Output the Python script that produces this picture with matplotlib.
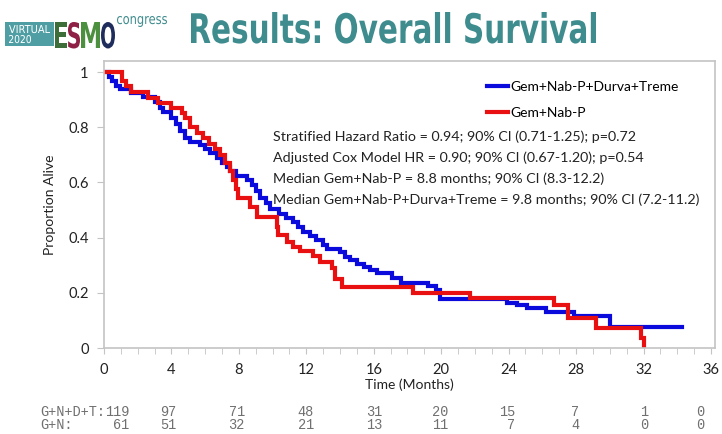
import matplotlib
matplotlib.use("Agg")
import matplotlib.pyplot as plt
from matplotlib.patches import Rectangle, PathPatch
from matplotlib.textpath import TextPath
from matplotlib.font_manager import FontProperties
from matplotlib.transforms import Affine2D, blended_transform_factory

# Kaplan-Meier steps, Gem+Nab-P+Durva+Treme (n=119)
t_gndt = [0, 0.3, 0.5, 0.7, 0.95, 1.6, 2.3, 3.0, 3.3, 3.5, 4.0, 4.3, 4.5, 4.8, 5.1,
          5.7, 6.0, 6.3, 6.7, 7.0, 7.3, 7.5, 7.8, 8.5, 8.8, 9.0, 9.25, 9.6, 9.85,
          10.4, 10.8, 11.2, 11.5, 11.8, 12.2, 12.6, 13.0, 13.2, 14.0, 14.3, 14.6,
          15.0, 15.4, 15.8, 16.2, 17.1, 17.6, 19.2, 19.7, 19.9, 23.9, 24.5, 25.1,
          26.2, 27.9, 30.0, 34.3]
s_gndt = [1.0, 0.983, 0.966, 0.95, 0.94, 0.925, 0.91, 0.89, 0.87, 0.855, 0.835, 0.81,
          0.785, 0.76, 0.745, 0.735, 0.72, 0.705, 0.69, 0.67, 0.655, 0.64, 0.625,
          0.61, 0.59, 0.57, 0.545, 0.525, 0.505, 0.485, 0.47, 0.455, 0.44, 0.42,
          0.405, 0.39, 0.375, 0.36, 0.348, 0.33, 0.318, 0.305, 0.292, 0.282, 0.272,
          0.255, 0.237, 0.225, 0.21, 0.178, 0.163, 0.155, 0.145, 0.13, 0.115,
          0.076, 0.076]

# Kaplan-Meier steps, Gem+Nab-P (n=61)
t_gn = [0, 1.07, 1.3, 1.6, 2.6, 3.2, 4.0, 4.6, 4.8, 5.1, 5.5, 5.9, 6.2, 6.6, 6.9,
        7.2, 7.45, 7.65, 7.8, 7.95, 8.65, 9.05, 10.25, 10.35, 10.85, 11.2, 11.6,
        12.4, 12.8, 13.5, 13.7, 14.1, 18.3, 21.7, 26.7, 27.5, 29.2, 31.85, 32.0]
s_gn = [1.0, 0.967, 0.951, 0.926, 0.906, 0.888, 0.87, 0.85, 0.833, 0.80, 0.78,
        0.76, 0.74, 0.72, 0.70, 0.67, 0.64, 0.61, 0.575, 0.545, 0.51, 0.475, 0.44,
        0.41, 0.385, 0.365, 0.35, 0.335, 0.31, 0.29, 0.25, 0.221, 0.20, 0.181,
        0.156, 0.11, 0.072, 0.036, 0.0]

risk_months = [0, 4, 8, 12, 16, 20, 24, 28, 32, 36]
risk_gndt = [119, 97, 71, 48, 31, 20, 15, 7, 1, 0]
risk_gn = [61, 51, 32, 21, 13, 11, 7, 4, 0, 0]

stats_lines = [
    "Stratified Hazard Ratio = 0.94; 90% CI (0.71-1.25); p=0.72",
    "Adjusted Cox Model HR = 0.90; 90% CI (0.67-1.20); p=0.54",
    "Median Gem+Nab-P = 8.8 months; 90% CI (8.3-12.2)",
    "Median Gem+Nab-P+Durva+Treme = 9.8 months; 90% CI (7.2-11.2)",
]

plt.rcParams['font.family'] = ['Lato', 'DejaVu Sans']
teal = '#3f8c8e'
axis_gray = '#c4c4c4'
txt = '#222222'

fig = plt.figure(figsize=(7.22, 4.34), dpi=100)
W, H = 722, 434


def squeezed_text(s, x0, x1, base, top, color, weight='bold'):
    # bold text squeezed into a pixel box (x0..x1, top..baseline), measured from top-left
    path = TextPath((0, 0), s, size=10, prop=FontProperties(family='DejaVu Sans', weight=weight))
    bb = path.get_extents()
    sx = (x1 - x0) / bb.width
    sy = (base - top) / bb.ymax
    tr = (Affine2D().translate(-bb.xmin, 0).scale(sx, sy).translate(x0, H - base)
          .scale(1 / W, 1 / H) + fig.transFigure)
    fig.add_artist(PathPatch(path, transform=tr, facecolor=color, edgecolor='none'))


# header: logo block and title
fig.add_artist(Rectangle((5 / W, 1 - 46 / H), 49 / W, 24 / H, transform=fig.transFigure,
                         facecolor='#4f9ea4', edgecolor='none'))
squeezed_text("VIRTUAL", 9, 50, 33, 25, 'white', weight='normal')
squeezed_text("2020", 9, 31, 43, 35, 'white', weight='normal')
for ch, x0, x1, c in zip("ESMO", [55, 68, 81, 101], [67, 80, 100, 115],
                         ['#3d6e3a', '#8e1f45', '#4b8f3f', '#1f2d5c']):
    squeezed_text(ch, x0, x1, 48, 22, c)
squeezed_text("congress", 117, 167, 24, 16, teal, weight='normal')
squeezed_text("Results: Overall Survival", 191, 596, 43, 12, teal)

ax = fig.add_axes([104 / W, 86 / H, 611 / W, 287 / H])
ax.step(t_gndt, s_gndt, where='post', color='#0a0adc', lw=3, solid_joinstyle='miter',
        label="Gem+Nab-P+Durva+Treme")
ax.step(t_gn, s_gn, where='post', color='#e81010', lw=3, solid_joinstyle='miter',
        label="Gem+Nab-P")

ax.set_xlim(0, 36.24)
ax.set_ylim(0, 1.04)
ax.set_xticks(range(0, 37, 4))
ax.set_xticks(range(0, 37), minor=True)
ax.set_yticks([0, 0.2, 0.4, 0.6, 0.8, 1.0])
ax.set_yticklabels(["0", "0.2", "0.4", "0.6", "0.8", "1"])
for s in ax.spines.values():
    s.set_color(axis_gray)
    s.set_linewidth(1.2)
ax.tick_params(axis='both', which='both', color=axis_gray, direction='out',
               labelsize=10.5, labelcolor=txt)
ax.tick_params(axis='x', which='both', length=4, pad=7)
ax.tick_params(axis='y', length=5, pad=6)
ax.set_xlabel("Time (Months)", fontsize=10, color=txt, labelpad=1)
ax.set_ylabel("Proportion Alive", fontsize=10, color=txt, labelpad=9)

ax.legend(loc='upper left', bbox_to_anchor=(487 / W, 1 - 81 / H), bbox_transform=fig.transFigure,
          frameon=False, fontsize=10, borderpad=0, borderaxespad=0,
          handlelength=1.5, handletextpad=0.15, labelspacing=1.0)

for i, line in enumerate(stats_lines):
    fig.text(273 / W, 1 - (137 + 21 * i) / H, line, fontsize=10.25, color=txt, va='center')

# number at risk table under the axis
tr = blended_transform_factory(ax.transData, fig.transFigure)
mono = ['Liberation Mono', 'DejaVu Sans Mono']
risk_gray = '#707070'
fig.text(40 / W, 1 - 412 / H, "G+N+D+T:", family=mono, fontsize=9.8, color=risk_gray, va='center')
fig.text(40 / W, 1 - 425 / H, "G+N:", family=mono, fontsize=9.8, color=risk_gray, va='center')
risk_x = [1.5, 4.3, 8.35, 12.45, 16.5, 20.4, 24.4, 28.2, 32.3, 35.6]
for xm, a, b in zip(risk_x, risk_gndt, risk_gn):
    fig.text(xm, 1 - 412 / H, str(a), transform=tr, family=mono, fontsize=9.8,
             color=risk_gray, ha='right', va='center')
    fig.text(xm, 1 - 425 / H, str(b), transform=tr, family=mono, fontsize=9.8,
             color=risk_gray, ha='right', va='center')

fig.savefig("out.png", dpi=100)
